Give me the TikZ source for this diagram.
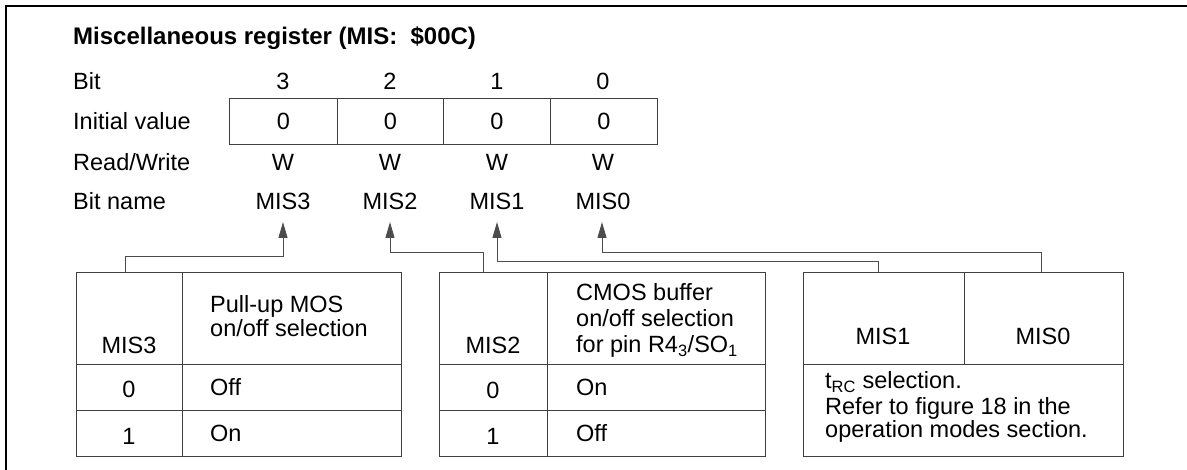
\documentclass[tikz,border=0pt]{standalone}
\usepackage{fontspec}
\setmainfont{Liberation Sans}
\usetikzlibrary{arrows.meta}
\begin{document}
\begin{tikzpicture}[x=1pt,y=-1pt,
  font=\fontsize{23.5}{27}\selectfont,
  cell/.style={draw=black!75, line width=1pt, inner sep=0pt, anchor=north west},
  txt/.style={inner sep=0pt, anchor=base},
  ltxt/.style={inner sep=0pt, anchor=base west},
  conn/.style={draw=black!70, line width=1pt},
  arr/.style={conn, -{Triangle[length=16pt,width=9pt]}}
]
\useasboundingbox (0,0) rectangle (1187,470);
% frame (top and left only)
\draw[line width=1.5pt] (6,470) -- (6,6) -- (1187,6);

% title
\node[ltxt, font=\fontsize{24}{27}\selectfont\bfseries] (title) at (73,45) {Miscellaneous register (MIS:\ \ \$00C)};

% row labels
\node[ltxt] (lbit)  at (73,90)  {Bit};
\node[ltxt] (linit) at (73,130) {Initial value};
\node[ltxt] (lrw)   at (73,171) {Read/Write};
\node[ltxt] (lname) at (73,210) {Bit name};

% bit numbers
\node[txt] (b3) at (283,90) {3};
\node[txt] (b2) at (390,90) {2};
\node[txt] (b1) at (497,90) {1};
\node[txt] (b0) at (603,90) {0};

% register cells
\node[cell, minimum width=108pt, minimum height=46pt] (r3) at (229,98) {0};
\node[cell, minimum width=106pt, minimum height=46pt] (r2) at (337,98) {0};
\node[cell, minimum width=107pt, minimum height=46pt] (r1) at (443,98) {0};
\node[cell, minimum width=107pt, minimum height=46pt] (r0) at (550,98) {0};

% read/write
\node[txt] (w3) at (283,171) {W};
\node[txt] (w2) at (390,171) {W};
\node[txt] (w1) at (497,171) {W};
\node[txt] (w0) at (603,171) {W};

% bit names
\node[txt] (n3) at (283,210) {MIS3};
\node[txt] (n2) at (390,210) {MIS2};
\node[txt] (n1) at (497,210) {MIS1};
\node[txt] (n0) at (603,210) {MIS0};

% ---- table 1 ----
\node[cell, minimum width=106pt, minimum height=92pt] (t1a)  at (76,272) {};
\node[cell, minimum width=219pt, minimum height=92pt] (t1b)  at (182,272) {};
\node[cell, minimum width=106pt, minimum height=46pt] (t1r0a) at (76,364) {};
\node[cell, minimum width=219pt, minimum height=46pt] (t1r0b) at (182,364) {};
\node[cell, minimum width=106pt, minimum height=46pt] (t1r1a) at (76,410) {};
\node[cell, minimum width=219pt, minimum height=46pt] (t1r1b) at (182,410) {};
\node[txt]  (t1h)  at (129,354) {MIS3};
\node[ltxt] (t1d1) at (210,313) {Pull-up MOS};
\node[ltxt] (t1d2) at (210,337) {on/off selection};
\node[txt]  (t1v0) at (129,398) {0};
\node[ltxt] (t1s0) at (210,396) {Off};
\node[txt]  (t1v1) at (129,444) {1};
\node[ltxt] (t1s1) at (210,442) {On};

% ---- table 2 ----
\node[cell, minimum width=108pt, minimum height=92pt] (t2a)  at (439,272) {};
\node[cell, minimum width=218pt, minimum height=92pt] (t2b)  at (547,272) {};
\node[cell, minimum width=108pt, minimum height=46pt] (t2r0a) at (439,364) {};
\node[cell, minimum width=218pt, minimum height=46pt] (t2r0b) at (547,364) {};
\node[cell, minimum width=108pt, minimum height=46pt] (t2r1a) at (439,410) {};
\node[cell, minimum width=218pt, minimum height=46pt] (t2r1b) at (547,410) {};
\node[txt]  (t2h)  at (493,354) {MIS2};
\node[ltxt] (t2d1) at (576,301) {CMOS buffer};
\node[ltxt] (t2d2) at (576,327) {on/off selection};
\node[ltxt] (t2d3) at (576,353) {for pin R4\textsubscript{3}/SO\textsubscript{1}};
\node[txt]  (t2v0) at (493,399) {0};
\node[ltxt] (t2s0) at (576,396) {On};
\node[txt]  (t2v1) at (493,445) {1};
\node[ltxt] (t2s1) at (576,442) {Off};

% ---- table 3 ----
\node[cell, minimum width=161pt, minimum height=92pt] (t3a) at (803,272) {};
\node[cell, minimum width=159pt, minimum height=92pt] (t3b) at (964,272) {};
\node[cell, minimum width=320pt, minimum height=92pt] (t3c) at (803,364) {};
\node[txt]  (t3h1) at (883,345) {MIS1};
\node[txt]  (t3h0) at (1043,345) {MIS0};
\node[ltxt] (t3l1) at (825,389) {t\textsubscript{RC} selection.};
\node[ltxt] (t3l2) at (825,414) {Refer to figure 18 in the};
\node[ltxt] (t3l3) at (825,438) {operation modes section.};

% connector end points
\coordinate (tip3) at (283,222);
\coordinate (tip2) at (390,222);
\coordinate (tip1) at (497,222);
\coordinate (tip0) at (602,222);
\coordinate (s3) at (125,272);
\coordinate (s2) at (483,272);
\coordinate (s1) at (878,272);
\coordinate (s0) at (1041,272);

\draw[arr] (s3) |- (283,257) -- (tip3);
\draw[arr] (s2) |- (390,253) -- (tip2);
\draw[arr] (s1) |- (497,262) -- (tip1);
\draw[arr] (s0) |- (602,253) -- (tip0);
\end{tikzpicture}
\end{document}
